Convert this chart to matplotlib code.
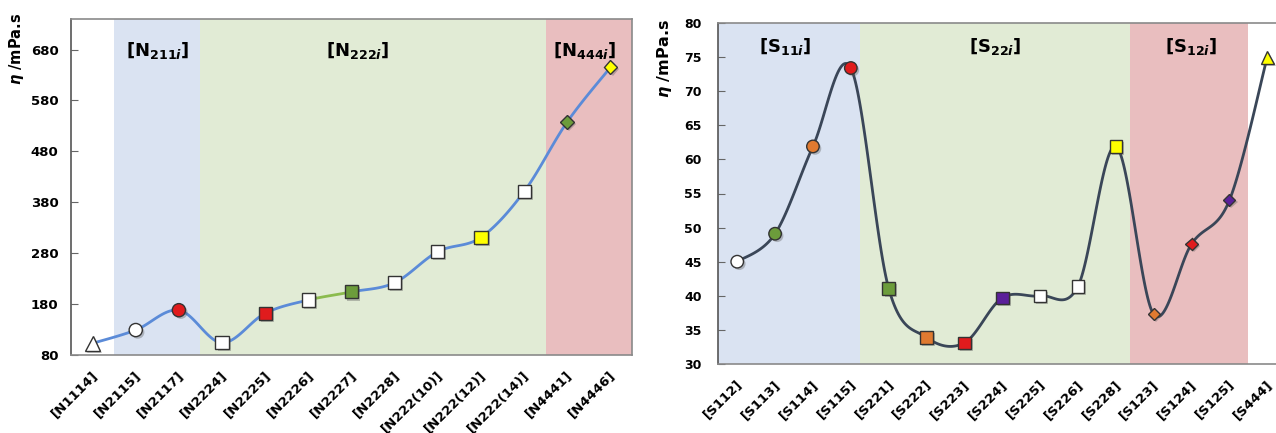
import numpy as np
import matplotlib
matplotlib.use("Agg")
import matplotlib.pyplot as plt
import matplotlib.patheffects as pe
from matplotlib.transforms import ScaledTranslation

plt.rcParams['font.family'] = ['DejaVu Sans']
plt.rcParams['font.weight'] = 'bold'
plt.rcParams['mathtext.fontset'] = 'custom'
plt.rcParams['mathtext.rm'] = 'DejaVu Sans:bold'
plt.rcParams['mathtext.it'] = 'DejaVu Sans:bold:italic'
plt.rcParams['mathtext.bf'] = 'DejaVu Sans:bold'

# ---------------- data ----------------
left_labels = ['[N1114]', '[N2115]', '[N2117]', '[N2224]', '[N2225]', '[N2226]', '[N2227]',
               '[N2228]', '[N222(10)]', '[N222(12)]', '[N222(14)]', '[N4441]', '[N4446]']
left_values = [103, 129, 168, 104, 162, 188, 204, 222, 283, 311, 401, 538, 645]
left_yticks = [80, 180, 280, 380, 480, 580, 680]

right_labels = ['[S112]', '[S113]', '[S114]', '[S115]', '[S221]', '[S222]', '[S223]', '[S224]',
                '[S225]', '[S226]', '[S228]', '[S123]', '[S124]', '[S125]', '[S444]']
right_values = [45.0, 49.1, 61.9, 73.4, 41.1, 33.9, 33.1, 39.7, 40.0, 41.4, 61.9, 37.3, 47.6, 54.0, 75.0]
right_yticks = [30, 35, 40, 45, 50, 55, 60, 65, 70, 75, 80]

# ---------------- styles ----------------
WHITE, RED, GREEN, YEL, ORG, PUR = 'white', '#e01b1d', '#6c9c3b', '#ffff00', '#e07a30', '#5b1f9a'
left_markers = ['^', 'o', 'o', 's', 's', 's', 's', 's', 's', 's', 's', 'D', 'D']
left_colors = [WHITE, WHITE, RED, WHITE, RED, WHITE, GREEN, WHITE, WHITE, YEL, WHITE, GREEN, YEL]
right_markers = ['o', 'o', 'o', 'o', 's', 's', 's', 's', 's', 's', 's', 'D', 'D', 'D', '^']
right_colors = [WHITE, GREEN, ORG, RED, GREEN, ORG, RED, PUR, WHITE, WHITE, YEL, ORG, RED, PUR, YEL]
msize = {'o': 9.5, 's': 9.5, 'D': 7.0, '^': 10.5}
msize_r = {'o': 9.0, 's': 9.0, 'D': 6.2, '^': 9.5}

BLUE_BG, GREEN_BG, RED_BG = '#dae3f2', '#e1ebd5', '#e9bebf'


def smooth_segments(xs, ys, sx, sy, n=40):
    """Excel-like smoothed line (cubic Bezier, Catmull-Rom control points) in screen space."""
    P = np.column_stack([np.asarray(xs, float) * sx, np.asarray(ys, float) * sy])
    segs = []
    N = len(P)
    t = np.linspace(0, 1, n)[:, None]
    for i in range(N - 1):
        p0, p1, p2, p3 = P[max(i - 1, 0)], P[i], P[i + 1], P[min(i + 2, N - 1)]
        c1 = p1 + (p2 - p0) / 6.0
        c2 = p2 - (p3 - p1) / 6.0
        B = (1 - t) ** 3 * p1 + 3 * (1 - t) ** 2 * t * c1 + 3 * (1 - t) * t ** 2 * c2 + t ** 3 * p2
        segs.append((B[:, 0] / sx, B[:, 1] / sy))
    return segs


W, H = 1276, 433
fig = plt.figure(figsize=(W / 100, H / 100), dpi=100)

shadow = [pe.SimplePatchShadow(offset=(1.5, -1.5), alpha=0.35, shadow_rgbFace='#555555'), pe.Normal()]

# ================= left panel =================
axL = fig.add_axes([71 / W, 1 - 355 / H, 561 / W, (355 - 19) / H])
xl = np.arange(len(left_values))
axL.set_xlim(-0.5, len(left_values) - 0.5)
axL.set_ylim(80, 740)
axL.axvspan(0.5, 2.5, color=BLUE_BG, zorder=0, lw=0)
axL.axvspan(2.5, 10.5, color=GREEN_BG, zorder=0, lw=0)
axL.axvspan(10.5, 12.5, color=RED_BG, zorder=0, lw=0)

segs = smooth_segments(xl, left_values, 561 / 13, 336 / 660)
for i, (sxv, syv) in enumerate(segs):
    col = '#8bbb4e' if i == 5 else '#5b8bd8'
    axL.plot(sxv, syv, color=col, lw=2.0, zorder=2, solid_capstyle='round')
for x, v, m, c in zip(xl, left_values, left_markers, left_colors):
    axL.plot([x], [v], linestyle='none', marker=m, ms=msize[m], mfc=c, mec='#333333',
             mew=1.0, zorder=3, path_effects=shadow)

axL.set_yticks(left_yticks)
axL.set_yticklabels([str(v) for v in left_yticks], fontsize=9.5, fontweight='bold')
axL.tick_params(axis='y', direction='in', length=5, width=0.8, color='#666666', pad=9)
axL.set_xticks(xl)
axL.set_xticklabels(left_labels, rotation=45, ha='right', va='center', rotation_mode='anchor',
                    fontsize=9.5, fontweight='bold')
axL.tick_params(axis='x', length=0, pad=13)
for lab in axL.get_xticklabels():
    lab.set_transform(lab.get_transform() + ScaledTranslation(3 / 100, 0, fig.dpi_scale_trans))
for s in ['top', 'right', 'bottom']:
    axL.spines[s].set_color('#8a8a8a')
    axL.spines[s].set_linewidth(1.2)
axL.spines['left'].set_color('#555555')
axL.spines['left'].set_linewidth(1.2)

axL.text(1.5, 678, r'[N$_{211i}$]', ha='center', va='center', fontsize=13, fontweight='bold')
axL.text(6.15, 678, r'[N$_{222i}$]', ha='center', va='center', fontsize=13, fontweight='bold')
axL.text(11.4, 678, r'[N$_{444i}$]', ha='center', va='center', fontsize=13, fontweight='bold')
fig.text(17 / W, 1 - 13 / H, r'$\eta$ /mPa.s', rotation=90, ha='center', va='top',
         fontsize=10.5, fontweight='bold')

# ================= right panel =================
unit = 37.86
axR = fig.add_axes([718.3 / W, 1 - 364 / H, 15 * unit / W, (364 - 23) / H])
xr = np.arange(len(right_values))
axR.set_xlim(-0.5, len(right_values) - 0.5)
axR.set_ylim(30, 80)
axR.axvspan(-0.5, 3.25, color=BLUE_BG, zorder=0, lw=0)
axR.axvspan(3.25, 10.38, color=GREEN_BG, zorder=0, lw=0)
axR.axvspan(10.38, 13.5, color=RED_BG, zorder=0, lw=0)

segs = smooth_segments(xr, right_values, unit, 341 / 50)
for sxv, syv in segs:
    axR.plot(sxv, syv, color='#3a4658', lw=2.0, zorder=2, solid_capstyle='round')
for x, v, m, c in zip(xr, right_values, right_markers, right_colors):
    axR.plot([x], [v], linestyle='none', marker=m, ms=msize_r[m], mfc=c, mec='#333333',
             mew=1.0, zorder=3, path_effects=shadow, clip_on=False)

axR.set_yticks(right_yticks)
axR.set_yticklabels([str(v) for v in right_yticks], fontsize=9, fontweight='bold')
axR.tick_params(axis='y', direction='in', length=5, width=0.8, color='#666666', pad=12)
axR.set_xticks(xr)
axR.set_xticklabels(right_labels, rotation=45, ha='right', va='center', rotation_mode='anchor',
                    fontsize=9.5, fontweight='bold')
axR.tick_params(axis='x', length=0, pad=13)
for lab in axR.get_xticklabels():
    lab.set_transform(lab.get_transform() + ScaledTranslation(3 / 100, 0, fig.dpi_scale_trans))
for s in ['top', 'bottom']:
    axR.spines[s].set_color('#8a8a8a')
    axR.spines[s].set_linewidth(1.2)
axR.spines['right'].set_visible(False)
axR.spines['left'].set_color('#555555')
axR.spines['left'].set_linewidth(1.2)

axR.text(1.27, 76.5, r'[S$_{11i}$]', ha='center', va='center', fontsize=13, fontweight='bold')
axR.text(6.82, 76.5, r'[S$_{22i}$]', ha='center', va='center', fontsize=13, fontweight='bold')
axR.text(12.0, 76.5, r'[S$_{12i}$]', ha='center', va='center', fontsize=13, fontweight='bold')
fig.text(665 / W, 1 - 19 / H, r'$\eta$ /mPa.s', rotation=90, ha='center', va='top',
         fontsize=11.5, fontweight='bold')

fig.savefig('out.png', dpi=100)
